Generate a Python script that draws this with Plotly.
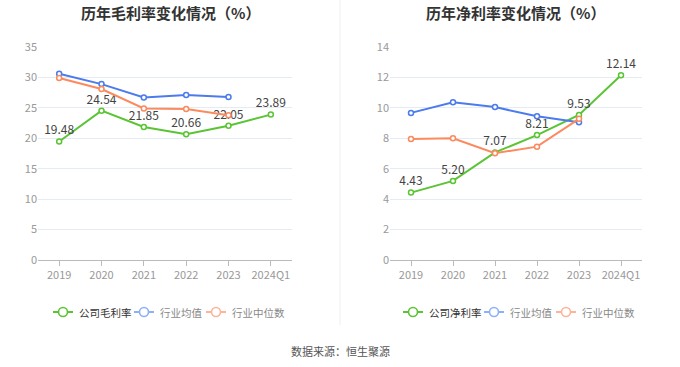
import plotly.graph_objects as go

categories = ["2019", "2020", "2021", "2022", "2023", "2024Q1"]

gross_company = [19.48, 24.54, 21.85, 20.66, 22.05, 23.89]
gross_ind_mean = [30.6, 28.9, 26.7, 27.1, 26.8]
gross_ind_median = [29.9, 28.1, 24.9, 24.8, 23.8]

net_company = [4.43, 5.20, 7.07, 8.21, 9.53, 12.14]
net_ind_mean = [9.67, 10.37, 10.05, 9.45, 9.06]
net_ind_median = [7.96, 8.0, 7.02, 7.45, 9.28]

legend_left = ["公司毛利率", "行业均值", "行业中位数"]
legend_right = ["公司净利率", "行业均值", "行业中位数"]

GREEN = "#5ac434"
BLUE = "#4b7bec"
ORANGE = "#fb8a5e"
BLUE_L = "#8fb0f7"
ORANGE_L = "#fdb49a"

FONT = "Noto Sans CJK SC"
W, H = 680, 367

fig = go.Figure()

MK = 5
MKW = 1.5


def add_series(x_axis, y_axis, comp, mean, median):
    fig.add_trace(go.Scatter(
        x=categories, y=comp, mode="lines+markers+text",
        text=[f"{v:.2f}" for v in comp], textposition="top center",
        textfont=dict(size=12, color="#444", family=FONT),
        line=dict(color=GREEN, width=2),
        marker=dict(symbol="circle", size=MK, color="white", line=dict(color=GREEN, width=MKW)),
        xaxis=x_axis, yaxis=y_axis, showlegend=False, cliponaxis=False, hoverinfo="skip"))
    fig.add_trace(go.Scatter(
        x=categories[:len(mean)], y=mean, mode="lines+markers",
        line=dict(color=BLUE, width=2),
        marker=dict(symbol="circle", size=MK, color="white", line=dict(color=BLUE, width=MKW)),
        xaxis=x_axis, yaxis=y_axis, showlegend=False, cliponaxis=False, hoverinfo="skip"))
    fig.add_trace(go.Scatter(
        x=categories[:len(median)], y=median, mode="lines+markers",
        line=dict(color=ORANGE, width=2),
        marker=dict(symbol="circle", size=MK, color="white", line=dict(color=ORANGE, width=MKW)),
        xaxis=x_axis, yaxis=y_axis, showlegend=False, cliponaxis=False, hoverinfo="skip"))


add_series("x", "y", gross_company, gross_ind_mean, gross_ind_median)
add_series("x2", "y2", net_company, net_ind_mean, net_ind_median)

ydom = [(H - 260) / H, (H - 47) / H]
xaxis_common = dict(type="category", range=[-0.5, 5.5], showgrid=False, showline=True,
                    linecolor="#bbb", linewidth=1, ticks="outside", ticklen=5, tickcolor="#bbb",
                    tickfont=dict(size=11, color="#999", family=FONT), fixedrange=True,
                    automargin=False)
yaxis_common = dict(showgrid=True, gridcolor="#e6eaf2", gridwidth=1, zeroline=False, showline=False,
                    tickfont=dict(size=11, color="#999", family=FONT), ticks="", fixedrange=True,
                    automargin=False)

annotations = [
    dict(text="<b>历年毛利率变化情况（%）</b>", x=170 / W, y=(H - 12) / H, xref="paper", yref="paper",
         showarrow=False, font=dict(size=15, color="#333", family=FONT), xanchor="center", yanchor="middle"),
    dict(text="<b>历年净利率变化情况（%）</b>", x=515 / W, y=(H - 12) / H, xref="paper", yref="paper",
         showarrow=False, font=dict(size=15, color="#333", family=FONT), xanchor="center", yanchor="middle"),
    dict(text="数据来源：恒生聚源", x=340 / W, y=(H - 351) / H, xref="paper", yref="paper",
         showarrow=False, font=dict(size=11, color="#555", family=FONT), xanchor="center", yanchor="middle"),
]
shapes = [dict(type="line", xref="paper", yref="paper", x0=340 / W, x1=340 / W,
               y0=(H - 325) / H, y1=1, line=dict(color="#eeeeee", width=1))]

# manual legends (icon: short line with open circle, then label)
LEG_Y = 312


def add_legend(names, starts):
    cols = [GREEN, BLUE_L, ORANGE_L]
    tcols = ["#333", "#888", "#888"]
    for name, x0, c, tc in zip(names, starts, cols, tcols):
        yy = (H - LEG_Y) / H
        shapes.append(dict(type="line", xref="paper", yref="paper", x0=x0 / W, x1=(x0 + 20) / W,
                           y0=yy, y1=yy, line=dict(color=c, width=2)))
        shapes.append(dict(type="circle", xref="paper", yref="paper",
                           x0=(x0 + 5.5) / W, x1=(x0 + 14.5) / W,
                           y0=(H - LEG_Y - 4.5) / H, y1=(H - LEG_Y + 4.5) / H,
                           fillcolor="white", line=dict(color=c, width=1.6)))
        annotations.append(dict(text=name, x=(x0 + 24) / W, y=yy, xref="paper", yref="paper",
                                showarrow=False, xanchor="left", yanchor="middle",
                                font=dict(size=10.5, color=tc, family=FONT)))


add_legend(legend_left, [53, 134, 206])
add_legend(legend_right, [403, 484, 556])

fig.update_layout(
    width=W, height=H,
    margin=dict(l=0, r=0, t=0, b=0),
    paper_bgcolor="white", plot_bgcolor="white",
    font=dict(family=FONT),
    showlegend=False,
    hovermode=False,
    xaxis=dict(domain=[38 / W, 292 / W], anchor="y", **xaxis_common),
    yaxis=dict(domain=ydom, anchor="x", range=[0, 35], dtick=5, **yaxis_common),
    xaxis2=dict(domain=[390 / W, 642 / W], anchor="y2", **xaxis_common),
    yaxis2=dict(domain=ydom, anchor="x2", range=[0, 14], dtick=2, **yaxis_common),
    annotations=annotations,
    shapes=shapes,
)

fig.write_html("out.html", config={"displayModeBar": False},
               post_script="document.body.style.margin='0';")
